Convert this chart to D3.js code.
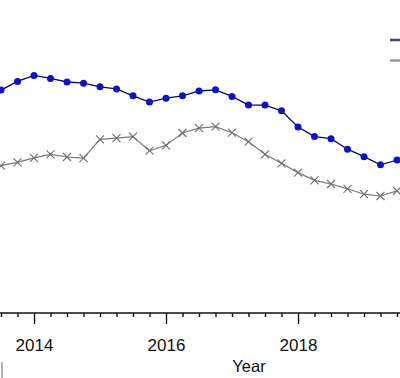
<!DOCTYPE html>
<html>
<head>
<meta charset="utf-8">
<script src="https://cdn.jsdelivr.net/npm/d3@7"></script>
<style>
  html, body { margin: 0; padding: 0; background: #fff; }
  svg { display: block; font-family: "Liberation Sans", Arial, sans-serif; }
</style>
</head>
<body>
<svg id="chart" width="400" height="378"></svg>
<script>
// Quarterly observations, visible window 2013.5 – 2019.5
const quarters = d3.range(8054, 8079).map(q => q / 4);
const seriesA = [74.3, 77.2, 79.2, 78.2, 77.0, 76.6, 75.4, 74.7, 72.4, 70.3, 71.6, 72.4, 74.0,
                 74.4, 72.2, 69.3, 69.3, 67.4, 62.0, 58.8, 58.1, 54.6, 52.1, 49.4, 51.0];
const seriesB = [49.1, 50.2, 51.7, 52.9, 52.0, 51.6, 57.9, 58.3, 58.8, 54.1, 55.9, 60.0, 61.6,
                 62.1, 60.1, 57.1, 52.9, 49.9, 46.8, 44.2, 43.0, 41.4, 39.6, 39.0, 40.7];
const majorTicks = [2014, 2016, 2018];
const xTitle = "Year";

const W = 400, H = 378;
const svg = d3.select("#chart");

const x = d3.scaleLinear().domain([2014, 2018]).range([34, 298]);
const y = d3.scaleLinear().domain([0, 100]).range([313, 13]);
const xFull = x.copy().domain([x.invert(0), x.invert(W)]).range([0, W]);

// Axis
const minorTicks = d3.range(Math.ceil(xFull.domain()[0] * 4), Math.floor(xFull.domain()[1] * 4) + 1)
  .map(q => q / 4).filter(v => !majorTicks.includes(v));

const axisG = svg.append("g").attr("transform", `translate(0,${y(0)})`);
axisG.append("g")
  .call(d3.axisBottom(xFull).tickValues(minorTicks).tickSize(4).tickSizeOuter(0).tickFormat(""))
  .call(g => g.select(".domain").remove());
axisG.append("g")
  .call(d3.axisBottom(xFull).tickValues(majorTicks).tickSize(11).tickSizeOuter(0).tickFormat(d3.format("d")))
  .call(g => g.select(".domain").remove())
  .call(g => g.selectAll("text").attr("y", 26).attr("font-size", 17)
    .attr("font-family", "'Liberation Sans', Arial, sans-serif").attr("fill", "#111"));
axisG.selectAll(".tick line").attr("stroke", "#111").attr("stroke-width", 1.4);
axisG.append("line").attr("x1", 0).attr("x2", W).attr("stroke", "#111").attr("stroke-width", 1.5);

svg.append("text").attr("x", 249).attr("y", 372).attr("text-anchor", "middle")
  .attr("font-size", 16.5).attr("fill", "#111").text(xTitle);

// small cut-off element at bottom left
svg.append("line").attr("x1", 2).attr("x2", 2).attr("y1", 362).attr("y2", H)
  .attr("stroke", "#999").attr("stroke-width", 1.5);

const line = d3.line().x((d, i) => x(quarters[i])).y(d => y(d));

// Series B (gray, x markers)
svg.append("path").datum(seriesB).attr("d", line)
  .attr("fill", "none").attr("stroke", "#7a7a7a").attr("stroke-width", 1.2);
const s = 4;
svg.append("g").selectAll("path").data(seriesB).join("path")
  .attr("d", (d, i) => {
    const cx = x(quarters[i]), cy = y(d);
    return `M${cx - s},${cy - s}L${cx + s},${cy + s}M${cx - s},${cy + s}L${cx + s},${cy - s}`;
  })
  .attr("stroke", "#6e6e6e").attr("stroke-width", 1.1).attr("fill", "none");

// Series A (blue, dots)
svg.append("path").datum(seriesA).attr("d", line)
  .attr("fill", "none").attr("stroke", "#0a0a60").attr("stroke-width", 1.3);
svg.append("g").selectAll("circle").data(seriesA).join("circle")
  .attr("cx", (d, i) => x(quarters[i])).attr("cy", d => y(d)).attr("r", 3.5)
  .attr("fill", "#0a14c0");

// Legend (cut off at the right edge)
svg.append("line").attr("x1", 390).attr("x2", W).attr("y1", 40).attr("y2", 40)
  .attr("stroke", "#44447c").attr("stroke-width", 2.5);
svg.append("line").attr("x1", 390).attr("x2", W).attr("y1", 60.5).attr("y2", 60.5)
  .attr("stroke", "#999").attr("stroke-width", 2.5);
</script>
</body>
</html>
